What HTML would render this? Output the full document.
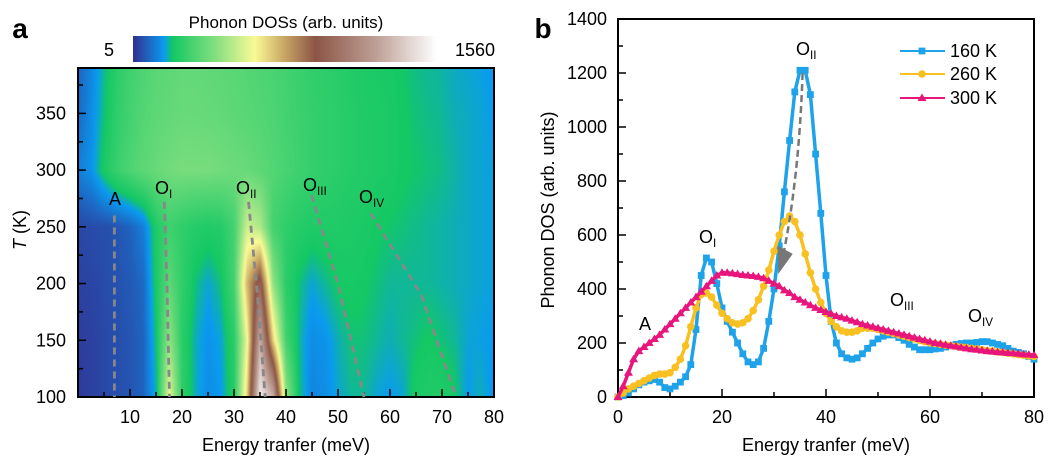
<!DOCTYPE html>
<html><head><meta charset="utf-8"><style>
body{margin:0;background:#fff;width:1050px;height:459px;overflow:hidden;font-family:"Liberation Sans",Arial,sans-serif}
svg text{font-family:"Liberation Sans",Arial,sans-serif}
</style></head><body>
<div style="position:relative;width:1050px;height:459px">
<canvas id="hm" width="416" height="329" style="position:absolute;left:78px;top:68px"></canvas>
<canvas id="cb" width="304" height="26" style="position:absolute;left:133px;top:36px"></canvas>
<svg id="s" width="1050" height="459" style="position:absolute;left:0;top:0"></svg>
</div>
<script>
const energies=[0,2.5,5,7.5,10,12.5,15,17.5,20,22.5,25,27.5,30,32.5,35,37.5,40,42.5,45,47.5,50,52.5,55,57.5,60,62.5,65,67.5,70,72.5,75,77.5,80];
const temps=[100,150,200,250,300,350,400];
const dos100=[20,30,40,50,60,80,180,600,260,180,140,160,240,700,1500,1300,450,200,130,140,170,190,190,170,160,170,220,230,230,210,160,180,150];
const dos150=[25,30,40,50,60,80,200,450,250,180,150,170,250,600,1300,700,300,190,140,150,180,200,200,190,180,190,200,210,200,190,170,165,160];
const dos200=[30,35,45,55,65,90,220,350,260,200,170,200,300,750,1000,450,250,200,170,190,210,215,210,200,190,190,190,190,185,180,175,170,165];
const dos250=[40,45,50,60,80,120,230,290,260,240,230,240,300,550,500,300,260,240,230,230,230,225,220,210,205,200,195,190,185,180,175,170,165];
const dos300=[120,150,220,280,320,350,370,390,400,400,400,390,380,370,350,330,310,290,270,260,250,240,235,225,220,210,205,200,195,185,175,170,165];
const dos350=[90,140,200,260,300,330,350,360,370,370,365,360,350,340,330,320,300,285,270,260,250,240,230,225,220,210,200,195,190,180,175,170,160];
const dos400=[80,130,190,250,290,320,340,350,360,360,355,350,340,330,320,310,295,280,265,255,245,235,225,220,215,205,195,190,185,175,170,165,155];
const grid=[dos100,dos150,dos200,dos250,dos300,dos350,dos400];

const eB=[0,1,2,3,4,5,6,7,8,9,10,11,12,13,14,15,16,17,18,19,20,21,22,23,24,25,26,27,28,29,30,31,32,33,34,35,36,37,38,39,40,41,42,43,44,45,46,47,48,49,50,51,52,53,54,55,56,57,58,59,60,61,62,63,64,65,66,67,68,69,70,71,72,73,74,75,76,77,78,79,80];
const k160=[0,5,15,30,45,55,60,65,55,35,30,40,55,75,120,250,450,515,500,420,330,280,240,200,160,130,120,130,180,280,400,560,760,950,1130,1210,1210,1120,900,680,450,280,200,160,145,140,145,160,180,200,215,225,230,230,220,210,195,185,175,175,175,178,180,185,190,195,198,200,200,202,205,205,200,195,190,180,170,165,160,150,140];
const k260=[0,15,30,40,50,60,70,80,85,85,90,110,140,190,260,330,380,385,370,340,310,290,275,270,275,290,320,360,410,470,540,600,650,670,650,600,530,460,400,350,310,280,260,245,240,240,245,255,255,255,250,245,240,235,230,225,220,215,210,205,200,198,195,192,190,188,185,183,180,178,175,172,170,167,165,162,160,157,155,152,150];
const k300=[0,40,90,140,170,185,200,215,230,250,270,290,310,330,350,370,390,410,430,450,460,460,458,455,452,450,448,445,440,430,420,410,395,385,370,360,350,340,330,322,315,308,300,295,290,283,277,270,265,260,255,250,245,240,235,230,225,220,215,210,205,200,197,193,190,187,183,180,177,175,172,170,168,166,165,163,162,160,158,157,155];
const xTicksA=[10,20,30,40,50,60,70,80];
const yTicksA=[100,150,200,250,300,350];
const xTicksB=[0,20,40,60,80];
const yTicksB=[0,200,400,600,800,1000,1200,1400];

const stops=[[0,[50,48,145]],[0.1,[10,155,240]],[0.13,[20,200,100]],[0.28,[140,225,130]],[0.4,[250,250,150]],[0.5,[200,165,100]],[0.6,[140,85,70]],[0.8,[190,160,150]],[1,[255,255,255]]];
function cmap(t){t=Math.max(0,Math.min(1,t));for(let i=1;i<stops.length;i++){if(t<=stops[i][0]){const a=stops[i-1],b=stops[i];const f=(t-a[0])/(b[0]-a[0]);return a[1].map((c,j)=>Math.round(c+(b[1][j]-c)*f));}}return stops[stops.length-1][1];}
const vmin=5,vmax=1560;
const aL=78,aR=494,aT=68,aB=397;
const axX=e=>aL+(e-0)/(80-0)*(aR-aL);
const axY=t=>aB-(t-100)/(390-100)*(aB-aT);
(function(){const c=document.getElementById('hm').getContext('2d');const W=416,H=329;const img=c.createImageData(W,H);
for(let py=0;py<H;py++){const T=100+(H-1-py)/(H-1)*290;let ti=Math.min(temps.length-2,Math.floor((T-100)/50));const ft=(T-temps[ti])/(temps[ti+1]-temps[ti]);
for(let px=0;px<W;px++){const E=px/(W-1)*80;let ei=Math.min(energies.length-2,Math.floor(E/2.5));const fe=(E-energies[ei])/(energies[ei+1]-energies[ei]);
const v0=grid[ti][ei]*(1-fe)+grid[ti][ei+1]*fe,v1=grid[ti+1][ei]*(1-fe)+grid[ti+1][ei+1]*fe;const v=v0*(1-ft)+v1*ft;const col=cmap((v-vmin)/(vmax-vmin));const k=(py*W+px)*4;img.data[k]=col[0];img.data[k+1]=col[1];img.data[k+2]=col[2];img.data[k+3]=255;}}
c.putImageData(img,0,0);
const cb=document.getElementById('cb').getContext('2d');for(let x=0;x<304;x++){const col=cmap(x/303);cb.fillStyle=`rgb(${col})`;cb.fillRect(x,0,1,26);}})();

const svg=document.getElementById('s');const NS='http://www.w3.org/2000/svg';
function el(tag,attrs,parent){const e=document.createElementNS(NS,tag);for(const k in attrs)e.setAttribute(k,attrs[k]);(parent||svg).appendChild(e);return e;}
function txt(x,y,s,size,anchor,name,extra){const t=el('text',Object.assign({x:x,y:y,'font-size':size,'text-anchor':anchor||'middle'},extra||{}));t.textContent=s;


return t;}
function sub(x,y,main,s,size,name){const t=el('text',{x:x,y:y,'font-size':size,'text-anchor':'start'});


const a=el('tspan',{},t);a.textContent=main;const b=el('tspan',{'font-size':size*0.65,dy:4},t);b.textContent=s;return t;}

let f=el('rect',{x:aL,y:aT,width:aR-aL,height:aB-aT,fill:'none',stroke:'#000','stroke-width':2});


for(let e=5;e<80;e+=5){const major=e%10===0;const ln=el('line',{x1:axX(e),x2:axX(e),y1:aB,y2:aB-(major?8:5),stroke:'#000','stroke-width':1.5});

}
xTicksA.forEach(e=>txt(axX(e),423,String(e),18,'middle','x-tick-label-a'));
for(let t=125;t<390;t+=25){const major=t%50===0;const ln=el('line',{x1:aL,x2:aL+(major?8:5),y1:axY(t),y2:axY(t),stroke:'#000','stroke-width':1.5});

}
yTicksA.forEach(t=>txt(66,axY(t)+6,String(t),18,'end','y-tick-label-a'));
txt(286,451,'Energy tranfer (meV)',18,'middle','x-axis-title-a');
{const t=el('text',{x:0,y:0,'font-size':18,'text-anchor':'middle',transform:'translate(26,230) rotate(-90)'});


const a=el('tspan',{'font-style':'italic'},t);a.textContent='T';const b=el('tspan',{},t);b.textContent=' (K)';}
txt(286,28,'Phonon DOSs (arb. units)',17,'middle','colorbar-title');
txt(109,56,'5',18,'middle','colorbar-min-label');
txt(475,56,'1560',18,'middle','colorbar-max-label');
txt(20,38,'a',28,'middle','panel-a-label',{'font-weight':'bold'});
const guides=[['A',[[7,260],[7,100]]],['OI',[[16.6,272],[17.1,200],[17.6,100]]],['OII',[[32.8,272],[34.5,190],[36,100]]],['OIII',[[44.9,278],[50,200],[55,100]]],['OIV',[[56.3,262],[66,190],[72.7,100]]]];
guides.forEach(g=>{const d=g[1].map((p,i)=>(i?'L':'M')+axX(p[0])+','+axY(p[1])).join(' ');const pa=el('path',{d:d,fill:'none',stroke:'#888','stroke-width':2.8,'stroke-dasharray':'7,5'});

});
txt(115,205,'A',18,'middle','label-A-a');
sub(155,194,'O','I',18,'label-OI-a');
sub(236,194,'O','II',18,'label-OII-a');
sub(303,191,'O','III',18,'label-OIII-a');
sub(359,203,'O','IV',18,'label-OIV-a');

const bL=618,bR=1034,bT=19,bB=397;
const bx=e=>bL+e/80*(bR-bL);
const by=v=>bB-v/1400*(bB-bT);
f=el('rect',{x:bL,y:bT,width:bR-bL,height:bB-bT,fill:'none',stroke:'#000','stroke-width':2});


for(let e=10;e<80;e+=10){const major=e%20===0;const ln=el('line',{x1:bx(e),x2:bx(e),y1:bB,y2:bB-(major?8:5),stroke:'#000','stroke-width':1.5});

}
xTicksB.forEach(e=>txt(bx(e),423,String(e),18,'middle','x-tick-label-b'));
for(let v=100;v<1400;v+=100){const major=v%200===0;const ln=el('line',{x1:bL,x2:bL+(major?8:5),y1:by(v),y2:by(v),stroke:'#000','stroke-width':1.5});

}
yTicksB.forEach(v=>txt(607,by(v)+6,String(v),18,'end','y-tick-label-b'));
txt(826,451,'Energy tranfer (meV)',18,'middle','x-axis-title-b');
txt(0,0,'Phonon DOS (arb. units)',18,'middle','y-axis-title-b',{transform:'translate(554,210) rotate(-90)'});
txt(543,38,'b',28,'middle','panel-b-label',{'font-weight':'bold'});

const series=[['160 K',k160,'#1ea2ea','square'],['260 K',k260,'#f8c020','circle'],['300 K',k300,'#e8157c','triangle']];
function marker(kind,x,y,col,g){let m;if(kind==='square')m=el('rect',{x:x-3.4,y:y-3.4,width:6.8,height:6.8,fill:col},g);else if(kind==='circle')m=el('circle',{cx:x,cy:y,r:3.8,fill:col},g);else m=el('path',{d:`M${x},${y-4.5}L${x+4.5},${y+3}L${x-4.5},${y+3}Z`,fill:col},g);

}
series.forEach((s,si)=>{const g=el('g',{});


const d=s[1].map((v,i)=>(i?'L':'M')+bx(eB[i])+','+by(v)).join(' ');el('path',{d:d,fill:'none',stroke:s[2],'stroke-width':3.5,'stroke-linejoin':'round'},g);
s[1].forEach((v,i)=>{marker(s[3],bx(eB[i]),by(v),s[2],g);});
const ly=[51,74,98][si];const lg=el('g',{});


el('line',{x1:900,x2:945,y1:ly,y2:ly,stroke:s[2],'stroke-width':2},lg);marker(s[3],922,ly,s[2],lg);
txt(950,ly+6,s[0],18,'start','legend-label');});
{const a=el('path',{d:`M${bx(35.5)},${by(1200)} Q${bx(34.8)},${by(800)} ${bx(31.5)},${by(500)}`,fill:'none',stroke:'#777','stroke-width':2.5,'stroke-dasharray':'7,4'});


const h=el('path',{d:`M${bx(30.8)},${by(455)} L${bx(30.7)},${by(560)} L${bx(33.6)},${by(530)} Z`,fill:'#777'});

}
txt(645,330,'A',18,'middle','label-A-b');
sub(699,243,'O','I',18,'label-OI-b');
sub(796,55,'O','II',18,'label-OII-b');
sub(890,306,'O','III',18,'label-OIII-b');
sub(968,322,'O','IV',18,'label-OIV-b');
</script>
</body></html>
